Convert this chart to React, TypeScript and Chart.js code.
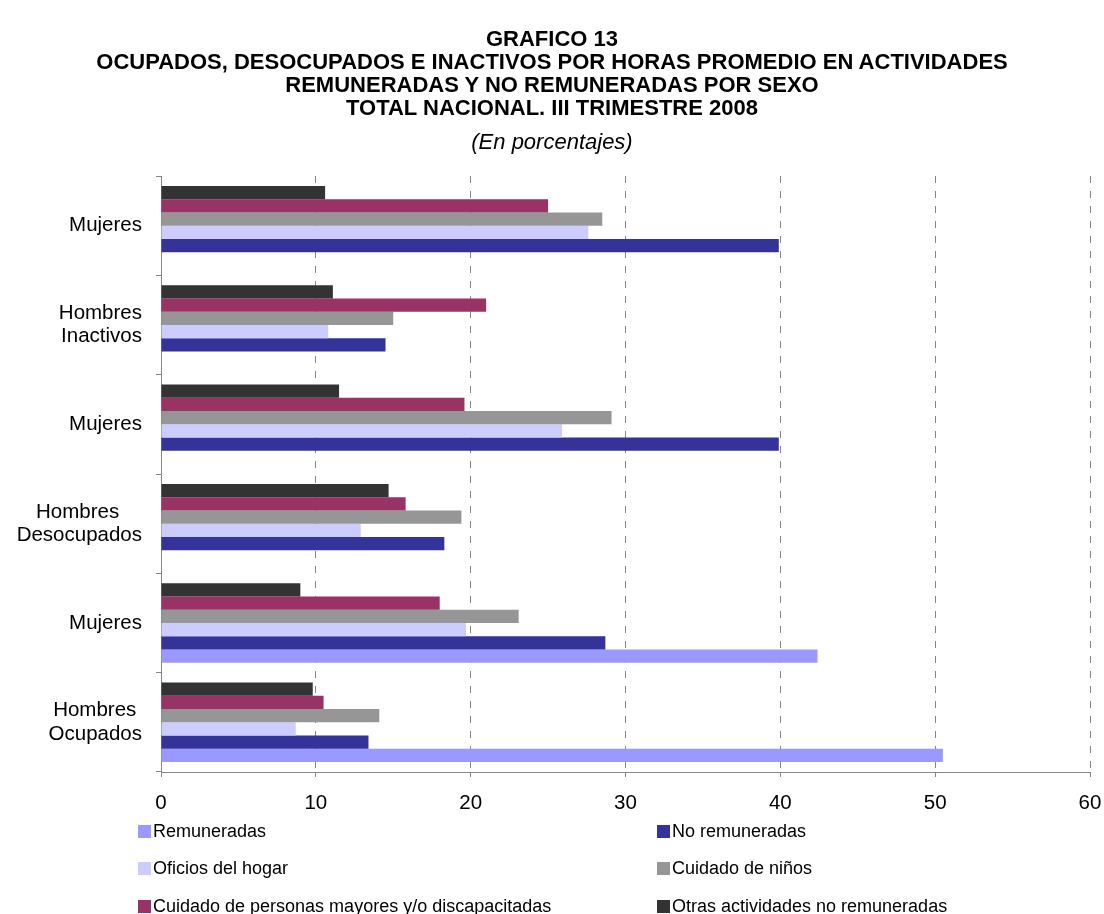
import React, { useEffect, useRef } from "react";
import { Chart, registerables } from "chart.js";

Chart.register(...registerables);

// ---- Data ----
const categories: string[][] = [
  ["Mujeres"],
  ["Hombres", "Inactivos"],
  ["Mujeres"],
  ["Hombres    ", "Desocupados"],
  ["Mujeres"],
  ["Hombres ", "Ocupados"],
];

const remuneradas: (number | null)[] = [null, null, null, null, 42.4, 50.5];
const noRemuneradas: number[] = [39.9, 14.5, 39.9, 18.3, 28.7, 13.4];
const oficiosHogar: number[] = [27.6, 10.8, 25.9, 12.9, 19.7, 8.7];
const cuidadoNinos: number[] = [28.5, 15.0, 29.1, 19.4, 23.1, 14.1];
const cuidadoPersonas: number[] = [25.0, 21.0, 19.6, 15.8, 18.0, 10.5];
const otrasActividades: number[] = [10.6, 11.1, 11.5, 14.7, 9.0, 9.8];

const seriesNames: string[] = [
  "Remuneradas",
  "No remuneradas",
  "Oficios del hogar",
  "Cuidado de niños",
  "Cuidado de personas mayores y/o discapacitadas",
  "Otras actividades no remuneradas",
];
const seriesColors: string[] = ["#9999FF", "#333399", "#CCCCFF", "#969696", "#993366", "#333333"];

const xMin = 0;
const xMax = 60;
const xStep = 10;

const titleLines: string[] = [
  "GRAFICO 13",
  "OCUPADOS, DESOCUPADOS E INACTIVOS POR HORAS PROMEDIO EN ACTIVIDADES",
  "REMUNERADAS Y NO REMUNERADAS POR SEXO",
  "TOTAL NACIONAL. III TRIMESTRE 2008",
];
const subtitle = "(En porcentajes)";

const FONT = '"Liberation Sans", Arial, Helvetica, sans-serif';

export default function App() {
  const canvasRef = useRef<HTMLCanvasElement | null>(null);

  useEffect(() => {
    document.body.style.margin = "0";
    const canvas = canvasRef.current;
    if (!canvas) return;
    const values = [remuneradas, noRemuneradas, oficiosHogar, cuidadoNinos, cuidadoPersonas, otrasActividades];
    // draw order top-to-bottom within a group: reversed legend order
    const order = [5, 4, 3, 2, 1, 0];
    const datasets = order.map((i) => ({
      label: seriesNames[i],
      data: values[i],
      backgroundColor: seriesColors[i],
      borderWidth: 0,
      categoryPercentage: 0.8,
      barPercentage: 1.0,
    }));

    const chart = new Chart(canvas, {
      type: "bar",
      data: { labels: categories, datasets },
      options: {
        indexAxis: "y",
        responsive: false,
        animation: false,
        layout: { padding: { top: 176, right: 14, left: 0, bottom: 0 } },
        plugins: {
          legend: { display: false },
          title: { display: false },
          tooltip: { enabled: false },
        },
        scales: {
          x: {
            type: "linear",
            min: xMin,
            max: xMax,
            ticks: {
              stepSize: xStep,
              color: "#000",
              padding: 14,
              font: { family: FONT, size: 20.5 },
            },
            grid: { color: "#868686", tickColor: "#868686", tickLength: 5, lineWidth: 1 },
            border: { color: "#868686", dash: [7, 8], width: 1 },
            afterFit: (s: any) => {
              s.height = 142;
              s.paddingRight = 0;
              s.paddingLeft = 0;
            },
          },
          y: {
            type: "category",
            ticks: {
              color: "#000",
              padding: 14,
              font: { family: FONT, size: 20.5, lineHeight: 1.15 },
            },
            grid: { drawOnChartArea: false, color: "#868686", tickColor: "#868686", tickLength: 5, offset: true },
            border: { color: "#868686", width: 1 },
            afterFit: (s: any) => {
              s.width = 161;
            },
          },
        },
      },
    });
    return () => chart.destroy();
  }, []);

  const legendPositions = [
    { x: 138, y: 831 },
    { x: 657, y: 831 },
    { x: 138, y: 868 },
    { x: 657, y: 868 },
    { x: 138, y: 906 },
    { x: 657, y: 906 },
  ];

  const titleTops = [27, 50, 73, 96];

  return (
    <div style={{ position: "absolute", left: 0, top: 0, width: 1104, height: 914, overflow: "hidden", background: "#fff", fontFamily: FONT }}>
      <canvas ref={canvasRef} width={1104} height={914} style={{ position: "absolute", left: 0, top: 0 }} />
      {titleLines.map((t, i) => (
        <div
          key={i}
          style={{
            position: "absolute",
            left: 0,
            width: 1104,
            top: titleTops[i],
            textAlign: "center",
            fontWeight: "bold",
            fontSize: 22,
            lineHeight: "23px",
            color: "#000",
            whiteSpace: "nowrap",
          }}
        >
          {t}
        </div>
      ))}
      <div
        style={{
          position: "absolute",
          left: 0,
          width: 1104,
          top: 131,
          textAlign: "center",
          fontStyle: "italic",
          fontSize: 22,
          lineHeight: "22px",
          color: "#000",
        }}
      >
        {subtitle}
      </div>
      {seriesNames.map((name, i) => (
        <div
          key={name}
          style={{
            position: "absolute",
            left: legendPositions[i].x,
            top: legendPositions[i].y - 11,
            height: 22,
            display: "flex",
            alignItems: "center",
            fontSize: 18,
            lineHeight: "22px",
            color: "#000",
            whiteSpace: "nowrap",
          }}
        >
          <span style={{ display: "inline-block", width: 13, height: 13, background: seriesColors[i], marginRight: 2 }} />
          <span>{name}</span>
        </div>
      ))}
    </div>
  );
}
